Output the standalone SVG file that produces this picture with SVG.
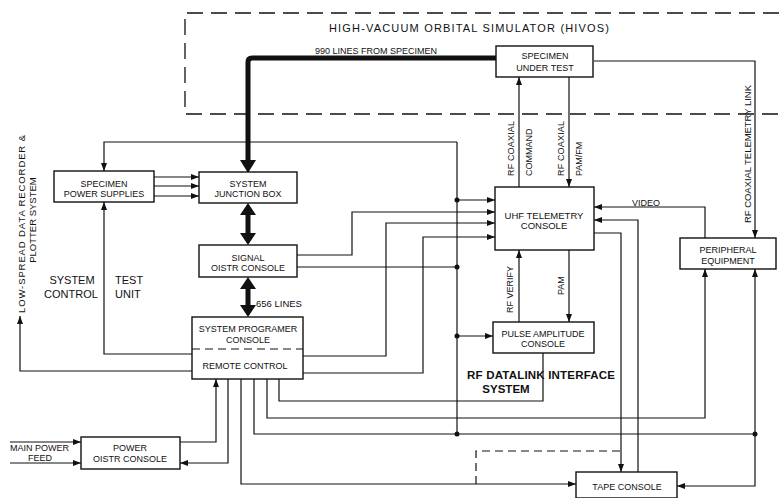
<svg xmlns="http://www.w3.org/2000/svg" width="779" height="498" viewBox="0 0 779 498">
<style>
.bg{fill:#fff}
.box{fill:#fff;stroke:#111;stroke-width:1.4}
.ln{fill:none;stroke:#111;stroke-width:1.2}
.thick{fill:none;stroke:#111;stroke-width:5}
.dash{fill:none;stroke:#111;stroke-width:1.3;stroke-dasharray:16 8}
.sdash{fill:none;stroke:#111;stroke-width:1.2;stroke-dasharray:8 5}
.dot{fill:#111}
text{font-family:"Liberation Sans",Arial,sans-serif;fill:#111}
.t{font-size:9px;text-anchor:middle}
.s{font-size:9px}
.L{font-size:11px}
.B{font-size:11.5px;font-weight:bold}
</style>
<defs>
<marker id="a" markerUnits="userSpaceOnUse" markerWidth="9" markerHeight="7" refX="8" refY="3.5" orient="auto-start-reverse"><path d="M0,0.5 L8,3.5 L0,6.5 z" fill="#111"/></marker>
</defs>
<rect class="bg" x="0" y="0" width="779" height="498"/>

<g id="hivos">
<path class="dash" d="M779,13 H185 V114 H779"/>
<text class="L" x="329" y="32" textLength="280" lengthAdjust="spacing">HIGH-VACUUM ORBITAL SIMULATOR (HIVOS)</text>
</g>

<g id="connectors">
<path class="thick" d="M496,58 H252 Q248,58 248,62 V162"/>
<path d="M240,160 L248,173 L256,160 z" fill="#111"/>
<path class="thick" d="M248,213 V235"/>
<path d="M240,215 L248,203 L256,215 z M240,233 L248,245 L256,233 z" fill="#111"/>
<path class="thick" d="M248,287 V307"/>
<path d="M240,289 L248,277 L256,289 z M240,305 L248,317 L256,305 z" fill="#111"/>
<path class="ln" d="M594,61 H755 V238" marker-end="url(#a)"/>
<path class="ln" d="M519,187 V77" marker-end="url(#a)"/>
<path class="ln" d="M569,77 V187" marker-end="url(#a)"/>
<path class="ln" d="M154,177 H199" marker-end="url(#a)"/>
<path class="ln" d="M154,186 H199" marker-end="url(#a)"/>
<path class="ln" d="M154,196 H199" marker-end="url(#a)"/>
<path class="ln" d="M457,142 H104 V171" marker-end="url(#a)"/>
<path class="ln" d="M457,142 V434"/>
<path class="ln" d="M457,200 H495" marker-end="url(#a)"/>
<path class="ln" d="M297,255 H352 V212 H495" marker-end="url(#a)"/>
<path class="ln" d="M297,267 H457"/>
<path class="ln" d="M303,356 H386 V223 H495" marker-end="url(#a)"/>
<path class="ln" d="M303,373 H423 V237 H495" marker-end="url(#a)"/>
<path class="ln" d="M457,336 H493" marker-end="url(#a)"/>
<path class="ln" d="M519,322 V250" marker-end="url(#a)"/>
<path class="ln" d="M569,250 V322" marker-end="url(#a)"/>
<path class="ln" d="M543,353 V401 H279 V379"/>
<path class="ln" d="M267,379 V418 H705 V269" marker-end="url(#a)"/>
<path class="ln" d="M254,379 V434 H755"/>
<path class="ln" d="M755,434 V269" marker-end="url(#a)"/>
<path class="ln" d="M755,434 V486 H677" marker-end="url(#a)"/>
<path class="ln" d="M241,379 V484 H576" marker-end="url(#a)"/>
<path class="sdash" d="M476,484 V451 H621"/>
<path class="ln" d="M594,233 H621 V472" marker-end="url(#a)"/>
<path class="ln" d="M638,472 V220 H594" marker-end="url(#a)"/>
<path class="ln" d="M705,238 V207 H594" marker-end="url(#a)"/>
<path class="ln" d="M192,354 H104 V202" marker-end="url(#a)"/>
<path class="ln" d="M192,371 H20 V316" marker-end="url(#a)"/>
<path class="ln" d="M180,442 H216 V379" marker-end="url(#a)"/>
<path class="ln" d="M228,379 V463 H180" marker-end="url(#a)"/>
<path class="ln" d="M10,442 H81" marker-end="url(#a)"/>
<path class="ln" d="M10,463 H81" marker-end="url(#a)"/>
<circle class="dot" cx="457" cy="200" r="2.5"/>
<circle class="dot" cx="457" cy="267" r="2.5"/>
<circle class="dot" cx="457" cy="336" r="2.5"/>
<circle class="dot" cx="457" cy="434" r="2.5"/>
<circle class="dot" cx="755" cy="434" r="2.5"/>
</g>

<g id="specimen">
<rect class="box" x="496" y="46" width="97" height="31"/>
<text class="t" x="545" y="58.5">SPECIMEN</text>
<text class="t" x="545" y="70.5">UNDER TEST</text>
</g>
<g id="power-supplies">
<rect class="box" x="54" y="171" width="100" height="31"/>
<text class="t" x="104" y="186.5">SPECIMEN</text>
<text class="t" x="104" y="196.5">POWER SUPPLIES</text>
</g>
<g id="junction-box">
<rect class="box" x="199" y="172" width="98" height="31"/>
<text class="t" x="248" y="186.5">SYSTEM</text>
<text class="t" x="248" y="196.5">JUNCTION BOX</text>
</g>
<g id="signal-distr">
<rect class="box" x="199" y="245" width="98" height="32"/>
<text class="t" x="248" y="260.5">SIGNAL</text>
<text class="t" x="248" y="271">OISTR CONSOLE</text>
</g>
<g id="programer">
<rect class="box" x="192" y="317" width="111" height="62"/>
<path class="sdash" d="M192,349 H303"/>
<text class="t" x="248" y="331.5">SYSTEM PROGRAMER</text>
<text class="t" x="248" y="342.5">CONSOLE</text>
<text class="t" x="245" y="368.5">REMOTE CONTROL</text>
</g>
<g id="power-distr">
<rect class="box" x="81" y="437" width="99" height="32"/>
<text class="t" x="130" y="450.5">POWER</text>
<text class="t" x="130" y="461.5">OISTR CONSOLE</text>
</g>
<g id="uhf">
<rect class="box" x="495" y="187" width="99" height="63"/>
<text class="t" x="544" y="218.5" style="font-size:9.5px">UHF TELEMETRY</text>
<text class="t" x="544" y="229" style="font-size:9.5px">CONSOLE</text>
</g>
<g id="pulse">
<rect class="box" x="493" y="322" width="101" height="31"/>
<text class="t" x="543" y="336.5">PULSE AMPLITUDE</text>
<text class="t" x="543" y="346.5">CONSOLE</text>
</g>
<g id="peripheral">
<rect class="box" x="680" y="238" width="96" height="31"/>
<text class="t" x="728" y="252.5">PERIPHERAL</text>
<text class="t" x="728" y="263.5">EQUIPMENT</text>
</g>
<g id="tape">
<rect class="box" x="576" y="472" width="101" height="26"/>
<text class="t" x="627" y="490">TAPE CONSOLE</text>
</g>

<g id="labels">
<text class="s" x="315" y="53.5">990 LINES FROM SPECIMEN</text>
<text class="s" x="256" y="307" style="font-size:9.5px">656 LINES</text>
<text class="s" x="632" y="205.5">VIDEO</text>
<text class="s" x="10" y="450.5">MAIN POWER</text>
<text class="t" x="40" y="460.5">FEED</text>
<text class="L" x="72" y="284" text-anchor="middle">SYSTEM</text>
<text class="L" x="71" y="298" text-anchor="middle">CONTROL</text>
<text class="L" x="115" y="284">TEST</text>
<text class="L" x="115" y="298">UNIT</text>
<text class="B" x="467" y="379" textLength="148" lengthAdjust="spacing">RF DATALINK INTERFACE</text>
<text class="B" x="506" y="393" text-anchor="middle">SYSTEM</text>
<text class="s" transform="translate(513.5,176) rotate(-90)" textLength="55" lengthAdjust="spacing">RF COAXIAL</text>
<text class="s" transform="translate(531.5,176) rotate(-90)">COMMAND</text>
<text class="s" transform="translate(563.5,176) rotate(-90)" textLength="55" lengthAdjust="spacing">RF COAXIAL</text>
<text class="s" transform="translate(581.5,176) rotate(-90)">PAM/FM</text>
<text class="s" transform="translate(751,223) rotate(-90)" style="font-size:9.5px" textLength="138" lengthAdjust="spacing">RF COAXIAL TELEMETRY LINK</text>
<text class="s" transform="translate(512.5,313) rotate(-90)">RF VERIFY</text>
<text class="s" transform="translate(563.5,295) rotate(-90)">PAM</text>
<text class="s" transform="translate(24.5,313) rotate(-90)" style="font-size:9.5px" textLength="178" lengthAdjust="spacing">LOW-SPREAD DATA RECORDER &amp;</text>
<text class="t" transform="translate(35.5,220) rotate(-90)" style="font-size:9.5px">PLOTTER SYSTEM</text>
</g>
</svg>
